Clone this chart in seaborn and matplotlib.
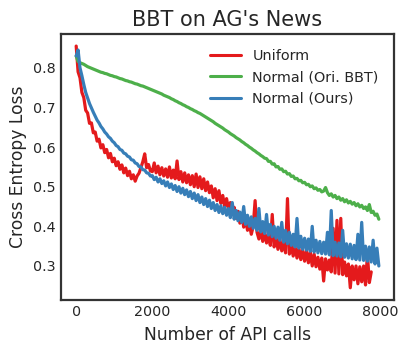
import numpy as np
import pandas as pd
import matplotlib
matplotlib.use("Agg")
import matplotlib.pyplot as plt
import seaborn as sns

# ---------------- data ----------------
step = 50
uniform_loss = [
    0.855, 0.790, 0.775, 0.738, 0.725, 0.693, 0.686, 0.660, 0.661, 0.636,
    0.638, 0.615, 0.620, 0.598, 0.606, 0.586, 0.594, 0.573, 0.584, 0.563,
    0.572, 0.553, 0.563, 0.544, 0.555, 0.535, 0.547, 0.528, 0.539, 0.520,
    0.530, 0.514, 0.527, 0.534, 0.548, 0.563, 0.583, 0.548, 0.556, 0.540,
    0.538, 0.560, 0.535, 0.552, 0.530, 0.548, 0.527, 0.545, 0.524, 0.550,
    0.522, 0.542, 0.520, 0.565, 0.518, 0.538, 0.512, 0.535, 0.510, 0.530,
    0.505, 0.528, 0.500, 0.532, 0.498, 0.525, 0.495, 0.520, 0.490, 0.512,
    0.485, 0.502, 0.472, 0.495, 0.465, 0.490, 0.458, 0.478, 0.450, 0.470,
    0.443, 0.460, 0.432, 0.448, 0.420, 0.438, 0.408, 0.430, 0.398, 0.418,
    0.390, 0.405, 0.380, 0.400, 0.465, 0.385, 0.368, 0.392, 0.362, 0.385,
    0.358, 0.380, 0.352, 0.430, 0.348, 0.372, 0.342, 0.368, 0.338, 0.360,
    0.333, 0.470, 0.330, 0.352, 0.325, 0.348, 0.320, 0.345, 0.316, 0.340,
    0.312, 0.338, 0.308, 0.335, 0.300, 0.330, 0.298, 0.322, 0.292, 0.320,
    0.262, 0.318, 0.290, 0.315, 0.285, 0.395, 0.282, 0.415, 0.280, 0.420,
    0.278, 0.310, 0.275, 0.305, 0.245, 0.300, 0.265, 0.300, 0.255, 0.298,
    0.260, 0.300, 0.252, 0.330, 0.258, 0.285,
]
normal_bbt_loss = [
    0.830, 0.816, 0.813, 0.811, 0.809, 0.806, 0.803, 0.801, 0.799, 0.797,
    0.795, 0.793, 0.791, 0.789, 0.788, 0.786, 0.785, 0.783, 0.781, 0.780,
    0.778, 0.777, 0.775, 0.773, 0.772, 0.770, 0.768, 0.767, 0.765, 0.764,
    0.762, 0.760, 0.759, 0.757, 0.755, 0.754, 0.752, 0.750, 0.748, 0.746,
    0.744, 0.742, 0.740, 0.738, 0.736, 0.734, 0.731, 0.729, 0.727, 0.725,
    0.722, 0.720, 0.717, 0.715, 0.712, 0.710, 0.707, 0.705, 0.702, 0.700,
    0.697, 0.695, 0.692, 0.690, 0.687, 0.685, 0.682, 0.679, 0.676, 0.673,
    0.670, 0.667, 0.664, 0.660, 0.657, 0.654, 0.651, 0.648, 0.644, 0.641,
    0.638, 0.634, 0.631, 0.628, 0.624, 0.621, 0.618, 0.614, 0.611, 0.607,
    0.604, 0.600, 0.597, 0.593, 0.590, 0.586, 0.583, 0.579, 0.576, 0.572,
    0.571, 0.564, 0.564, 0.557, 0.558, 0.550, 0.551, 0.544, 0.545, 0.538,
    0.539, 0.532, 0.533, 0.526, 0.527, 0.520, 0.521, 0.515, 0.516, 0.510,
    0.511, 0.505, 0.506, 0.500, 0.502, 0.495, 0.497, 0.491, 0.493, 0.487,
    0.489, 0.498, 0.485, 0.478, 0.482, 0.474, 0.478, 0.470, 0.474, 0.466,
    0.470, 0.462, 0.467, 0.459, 0.463, 0.456, 0.460, 0.452, 0.457, 0.449,
    0.453, 0.445, 0.449, 0.440, 0.455, 0.435, 0.438, 0.428, 0.431, 0.418,
]
normal_ours_loss = [
    0.830, 0.845, 0.800, 0.780, 0.758, 0.738, 0.724, 0.710, 0.699, 0.688,
    0.678, 0.668, 0.661, 0.652, 0.646, 0.638, 0.633, 0.626, 0.622, 0.615,
    0.611, 0.604, 0.601, 0.594, 0.592, 0.585, 0.583, 0.577, 0.575, 0.568,
    0.567, 0.560, 0.558, 0.551, 0.550, 0.543, 0.542, 0.535, 0.534, 0.527,
    0.528, 0.518, 0.524, 0.512, 0.520, 0.508, 0.515, 0.502, 0.512, 0.498,
    0.507, 0.493, 0.503, 0.488, 0.500, 0.484, 0.496, 0.480, 0.492, 0.475,
    0.488, 0.470, 0.484, 0.465, 0.480, 0.460, 0.474, 0.455, 0.470, 0.450,
    0.466, 0.445, 0.460, 0.440, 0.455, 0.435, 0.452, 0.432, 0.448, 0.428,
    0.445, 0.422, 0.460, 0.418, 0.440, 0.414, 0.436, 0.410, 0.450, 0.405,
    0.428, 0.400, 0.424, 0.395, 0.420, 0.390, 0.445, 0.386, 0.412, 0.382,
    0.430, 0.378, 0.405, 0.374, 0.400, 0.370, 0.398, 0.365, 0.410, 0.360,
    0.390, 0.356, 0.385, 0.352, 0.380, 0.348, 0.420, 0.345, 0.375, 0.342,
    0.370, 0.340, 0.368, 0.337, 0.400, 0.335, 0.365, 0.333, 0.362, 0.331,
    0.360, 0.330, 0.385, 0.328, 0.440, 0.326, 0.360, 0.325, 0.358, 0.323,
    0.390, 0.322, 0.356, 0.320, 0.355, 0.318, 0.352, 0.316, 0.380, 0.315,
    0.410, 0.314, 0.350, 0.312, 0.348, 0.310, 0.365, 0.305, 0.345, 0.300,
]
series_names = ["Uniform", "Normal (Ori. BBT)", "Normal (Ours)"]
series_values = [uniform_loss, normal_bbt_loss, normal_ours_loss]
colors = ["#e41a1c", "#4daf4a", "#377eb8"]

rows = []
for name, vals in zip(series_names, series_values):
    for i, v in enumerate(vals):
        rows.append({"calls": i * step, "loss": v, "method": name})
df = pd.DataFrame(rows)

# ---------------- plot ----------------
sns.set_style("white")
plt.rcParams["font.family"] = ["DejaVu Sans"]
plt.rcParams["text.color"] = "#262626"
plt.rcParams["axes.labelcolor"] = "#262626"
plt.rcParams["xtick.color"] = "#262626"
plt.rcParams["ytick.color"] = "#262626"

fig = plt.figure(figsize=(4.07, 3.54), dpi=100)
ax = fig.add_axes([0.150, 0.153, 0.818, 0.751])

sns.lineplot(data=df, x="calls", y="loss", hue="method", hue_order=series_names,
             palette=colors, estimator=None, linewidth=2.3, ax=ax)

ax.set_yticks([0.3, 0.4, 0.5, 0.6, 0.7, 0.8])
ax.set_xticks([0, 2000, 4000, 6000, 8000])
ax.tick_params(axis="both", labelsize=10.3, length=0, pad=4)
ax.set_xlabel("Number of API calls", fontsize=12.3, labelpad=5)
ax.set_ylabel("Cross Entropy Loss", fontsize=12.3, labelpad=4)
ax.set_title("BBT on AG's News", fontsize=15, pad=6)
for s in ax.spines.values():
    s.set_color("#333333")
    s.set_linewidth(1.6)

leg = ax.legend(loc="upper right", frameon=False, fontsize=10.4,
                handlelength=2.15, borderaxespad=0.65, labelspacing=0.5)
for line in leg.get_lines():
    line.set_linewidth(2.2)

fig.savefig("out.png", dpi=100)
